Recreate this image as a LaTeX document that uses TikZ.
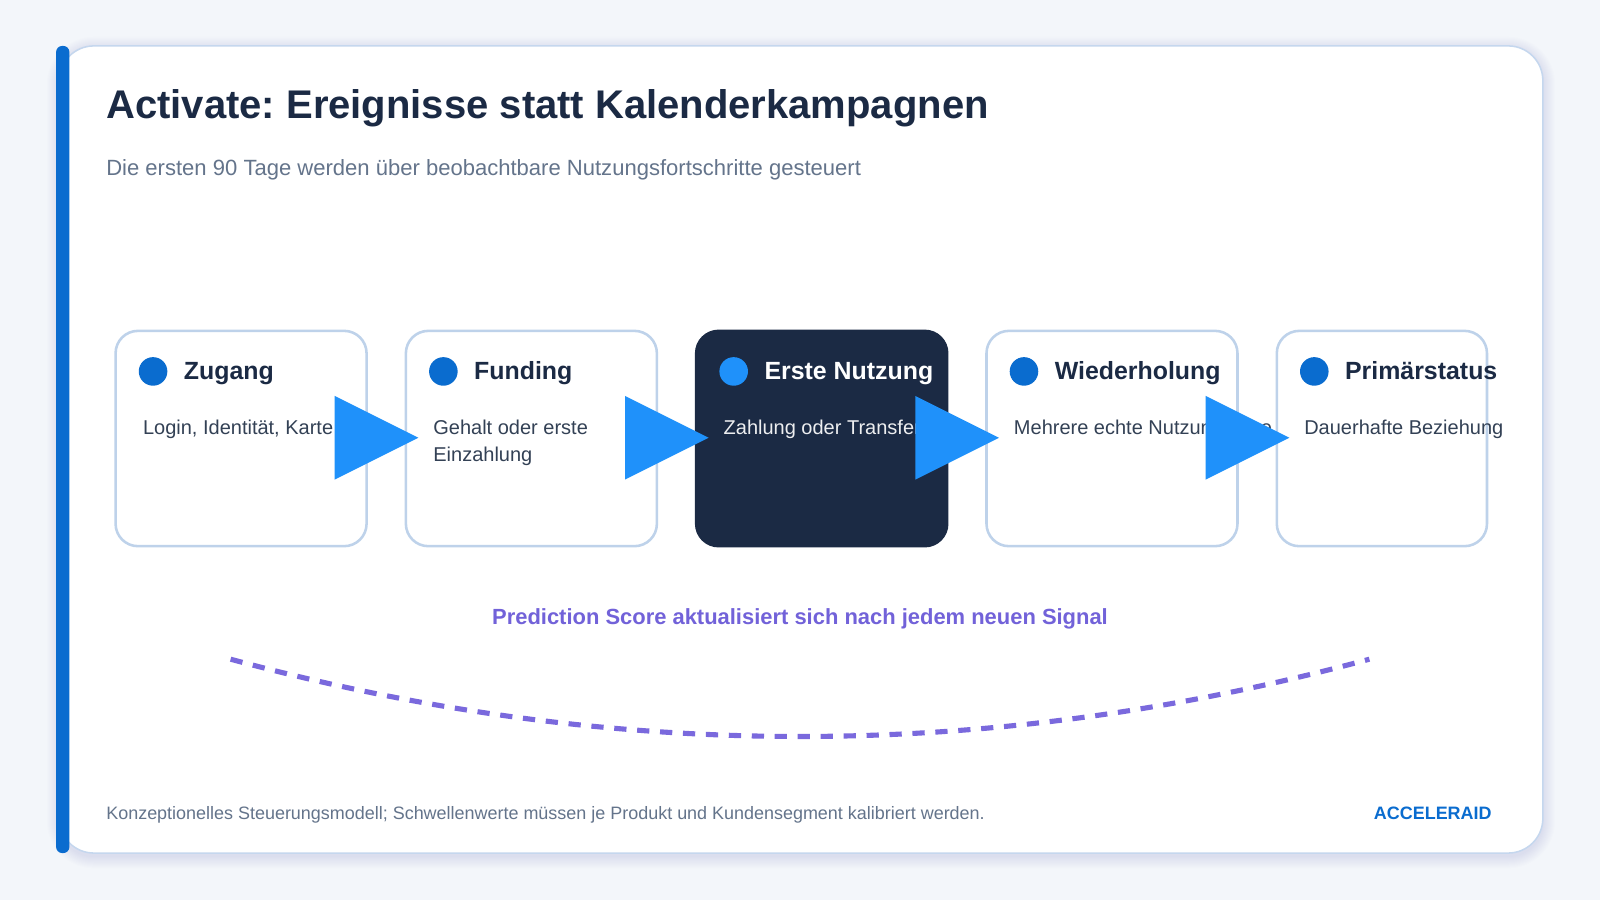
\documentclass[tikz,border=0pt]{standalone}
\usepackage{fontspec}
\setmainfont{Liberation Sans}
\usetikzlibrary{positioning}
\frenchspacing
\definecolor{pagebg}{HTML}{F3F6FA}
\definecolor{cardline}{HTML}{C5D7EE}
\definecolor{boxline}{HTML}{BED2EA}
\definecolor{accent}{HTML}{0A6CCF}
\definecolor{navy}{HTML}{1B2A44}
\definecolor{slate}{HTML}{64748B}
\definecolor{desctext}{HTML}{334155}
\definecolor{tipblue}{HTML}{1F91FA}
\definecolor{scoretext}{HTML}{7262D9}
\definecolor{scoreline}{HTML}{7A69DD}
\tikzset{
  stepcard/.style={draw=boxline,line width=2.5pt,fill=white,rounded corners=22pt,
    minimum width=246pt,minimum height=211pt,inner sep=0,anchor=north west},
  stepdot/.style={circle,fill=accent,minimum size=28pt,inner sep=0},
  steptitle/.style={anchor=base west,inner sep=0,text=navy,
    font=\fontsize{24.4}{28}\selectfont\bfseries},
  stepdesc/.style={anchor=base west,inner sep=0,text=desctext,align=left,
    font=\fontsize{19.6}{26}\selectfont},
  fliptip/.style={fill=tipblue}
}

\begin{document}
\begin{tikzpicture}[x=1pt,y=-1pt]
 \useasboundingbox (0,0) rectangle (1568,882);
 \fill[pagebg] (0,0) rectangle (1568,882);
 % soft shadow round the card
 \foreach \s in {1,2,...,12}{
     \fill[navy!60!blue,opacity=0.008,rounded corners=34pt+\s pt] (58-\s,45-\s+3) rectangle (1512+\s,836+\s+3);
 }
 \draw[cardline,line width=1.5pt,fill=white,rounded corners=34pt] (58,45) rectangle (1512,836);
 \fill[accent,rounded corners=6pt] (55,45) rectangle (68,836);

 \node[anchor=base west,inner sep=0,text=navy,font=\fontsize{39.2}{46}\selectfont\bfseries] (title) at (104,116) {Activate: Ereignisse statt Kalenderkampagnen};
 \node[anchor=base west,inner sep=0,text=slate,font=\fontsize{21.6}{26}\selectfont] (subtitle) at (104,172) {Die ersten 90 Tage werden über beobachtbare Nutzungsfortschritte gesteuert};

 % the five steps
 \node[stepcard] (zugang) at (112,323) {};
 \node[stepcard] (funding) at (396.5,323) {};
 \node[stepcard,fill=navy,draw=navy] (nutzung) at (681,323) {};
 \node[stepcard] (wieder) at (965.5,323) {};
 \node[stepcard,minimum width=206pt] (primaer) at (1250,323) {};

 \foreach \b in {zugang,funding,wieder,primaer}{
     \node[stepdot] (\b-dot) at ([shift={(38,41)}]\b.north west) {};
 }
 \node[stepdot,fill=tipblue] (nutzung-dot) at ([shift={(38,41)}]nutzung.north west) {};

 \node[steptitle] at ([shift={(68,49)}]zugang.north west) {Zugang};
 \node[steptitle] at ([shift={(68,49)}]funding.north west) {Funding};
 \node[steptitle,text=white] at ([shift={(68,49)}]nutzung.north west) {Erste Nutzung};
 \node[steptitle] at ([shift={(68,49)}]wieder.north west) {Wiederholung};
 \node[steptitle] at ([shift={(68,49)}]primaer.north west) {Primärstatus};

 \node[stepdesc] at ([shift={(28,103)}]zugang.north west) {Login, Identität, Karte};
 \node[stepdesc] at ([shift={(28,129)}]funding.north west) {Gehalt oder erste\\Einzahlung};
 \node[stepdesc,text=white!92!navy] at ([shift={(28,103)}]nutzung.north west) {Zahlung oder Transfer};
 \node[stepdesc] at ([shift={(28,103)}]wieder.north west) {Mehrere echte Nutzungstage};
 \node[stepdesc] at ([shift={(28,103)}]primaer.north west) {Dauerhafte Beziehung};

 % arrow heads between the steps
 \foreach \b in {zugang,funding,nutzung,wieder}{
     \fill[fliptip] ([shift={(216,65)}]\b.north west) -- ([shift={(298,106)}]\b.north west) -- ([shift={(216,147)}]\b.north west) -- cycle;
 }

 \node[anchor=base,inner sep=0,text=scoretext,font=\fontsize{21.5}{24}\selectfont\bfseries] (score) at (784,612) {Prediction Score aktualisiert sich nach jedem neuen Signal};
 \coordinate (arcl) at (226,646);
 \coordinate (arcr) at (1342,646);
 \draw[scoreline,line width=5pt,dash pattern=on 12pt off 10.5pt] (arcl) .. controls (598,747) and (970,747) .. (arcr);

 \node[anchor=base west,inner sep=0,text=slate,font=\fontsize{17.6}{20}\selectfont] (note) at (104,803) {Konzeptionelles Steuerungsmodell; Schwellenwerte müssen je Produkt und Kundensegment kalibriert werden.};
 \node[anchor=base east,inner sep=0,text=accent,font=\fontsize{17.6}{20}\selectfont\bfseries] (brand) at (1462,803) {ACCELERAID};
\end{tikzpicture}
\end{document}
